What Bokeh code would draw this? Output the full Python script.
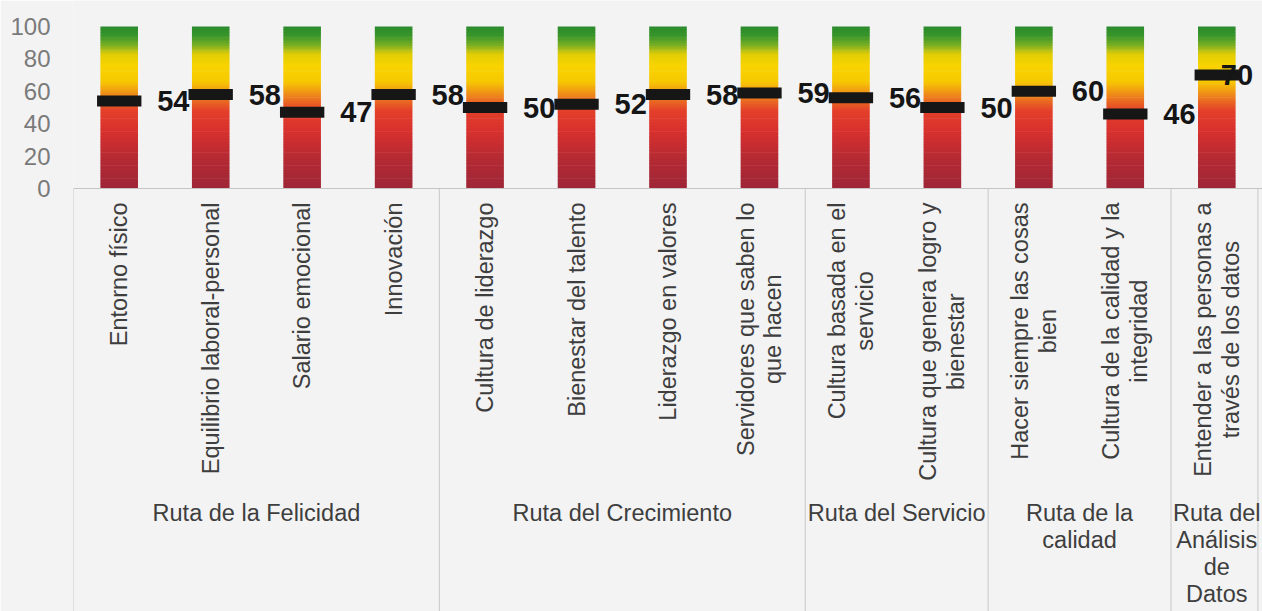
import numpy as np
from bokeh.plotting import figure
from bokeh.models import Range1d, FactorRange, FixedTicker, Span
from bokeh.core.properties import value
from bokeh.embed import file_html
from bokeh.resources import INLINE

# ---------------- data ----------------
grupos = ["Ruta de la Felicidad", "Ruta del Crecimiento", "Ruta del Servicio",
          "Ruta de la\ncalidad", "Ruta del\nAnálisis\nde\nDatos"]
tamanos_grupo = [4, 4, 2, 2, 1]
categorias = ["Entorno físico", "Equilibrio laboral-personal", "Salario emocional",
              "Innovación", "Cultura de liderazgo", "Bienestar del talento",
              "Liderazgo en valores", "Servidores que saben lo que hacen",
              "Cultura basada en el servicio", "Cultura que genera logro y bienestar",
              "Hacer siempre las cosas bien", "Cultura de la calidad y la integridad",
              "Entender a las personas a través de los datos"]
etiquetas = ["Entorno físico", "Equilibrio laboral-personal", "Salario emocional",
             "Innovación", "Cultura de liderazgo", "Bienestar del talento",
             "Liderazgo en valores", "Servidores que saben lo\nque hacen",
             "Cultura basada en el\nservicio", "Cultura que genera logro y\nbienestar",
             "Hacer siempre las cosas\nbien", "Cultura de la calidad y la\nintegridad",
             "Entender a las personas a\ntravés de los datos"]
valores = [54, 58, 47, 58, 50, 52, 58, 59, 56, 50, 60, 46, 70]
ticks_y = [0, 20, 40, 60, 80, 100]
escala_max = 100

# ---------------- style ----------------
W, H = 1262, 611
LEFT = 73
Y_TOP_PX, Y_ZERO_PX = 26, 188
BG = "#f3f3f4"
FONT = "Liberation Sans"
ppu = (Y_ZERO_PX - Y_TOP_PX) / escala_max
y_end = escala_max + Y_TOP_PX / ppu
y_start = -(H - Y_ZERO_PX) / ppu

stops = [(0, "#9e2637"), (18, "#b42a33"), (35, "#d7302e"), (48, "#e4402a"),
         (54, "#ea6a22"), (60, "#f09a14"), (66, "#f6c800"), (76, "#f8d400"),
         (83, "#e0cc05"), (88, "#80b022"), (94, "#3a962a"), (100, "#2a8a2c")]


def _rgb(h):
    return np.array([int(h[i:i + 2], 16) for i in (1, 3, 5)], dtype=float)


def color_at(v):
    for (a, ca), (b, cb) in zip(stops[:-1], stops[1:]):
        if a <= v <= b:
            t = (v - a) / (b - a)
            c = _rgb(ca) * (1 - t) + _rgb(cb) * t
            return "#%02x%02x%02x" % tuple(int(round(x)) for x in c)
    return stops[-1][1]


p = figure(width=W, height=H,
           x_range=FactorRange(factors=categorias, range_padding=0),
           y_range=Range1d(y_start, y_end),
           x_axis_location=None,
           output_backend="svg", toolbar_location=None,
           min_border_left=LEFT, min_border_right=0,
           min_border_top=0, min_border_bottom=0)
p.background_fill_color = BG
p.border_fill_color = BG
p.outline_line_color = None
p.xgrid.visible = False
p.ygrid.visible = False

ax = p.yaxis[0]
ax.ticker = FixedTicker(ticks=ticks_y)
ax.axis_line_color = None
ax.major_tick_line_color = None
ax.major_tick_out = 0
ax.major_tick_in = 0
ax.minor_tick_line_color = None
ax.minor_tick_out = 0
ax.major_label_text_font = FONT
ax.major_label_text_font_size = "24px"
ax.major_label_text_color = "#7a7a7a"
ax.major_label_standoff = 23

# gradient gauge bars (0..escala_max), slightly overlapping slices
gx, gb, gt, gc = [], [], [], []
for c in categorias:
    for v in range(escala_max):
        gx.append(c)
        gb.append(v)
        gt.append(min(v + 1.4, escala_max))
        gc.append(color_at(v + 0.5))
p.vbar(x=gx, bottom=gb, top=gt, width=0.41, fill_color=gc, line_color=None)

# axis line and group separators
p.add_layout(Span(location=0, dimension="width", line_color="#c4c4c4", line_width=1))
sep_x = []
idx = 0
for n in tamanos_grupo:
    sep_x.append((categorias[idx], -0.5))
    idx += n
sep_x.append((categorias[-1], 0.45))
p.segment(x0=sep_x, y0=[0] * len(sep_x), x1=sep_x, y1=[y_start] * len(sep_x),
          line_color="#c8c8c8", line_width=1)

# value markers
p.rect(x=categorias, y=valores, width=0.485, height=11, height_units="screen",
       fill_color="#161616", line_color=None)

# value labels
offs = [38] * len(valores)
offs[-1] = 4
p.text(x=categorias, y=valores, text=[str(v) for v in valores], x_offset=offs,
       text_baseline="middle", text_align="left", text_font=value(FONT),
       text_font_style="bold", text_font_size="29px", text_color="#151515")

# category labels (rotated)
p.text(x=categorias, y=[0] * len(categorias), text=etiquetas, angle=np.pi / 2,
       y_offset=14, anchor="center_right", text_align="center", text_baseline="middle",
       text_font=value(FONT), text_font_size="23.5px", text_color="#3e3e3e",
       text_line_height=1.07)

# group labels
gpos = []
idx = 0
for n in tamanos_grupo:
    gpos.append((categorias[idx], n / 2 - 0.5))
    idx += n
p.text(x=gpos, y=[0] * len(grupos), text=grupos, y_offset=311,
       anchor="top_center", text_align="center", text_baseline="top",
       text_font=value(FONT), text_font_size="23.5px", text_color="#3e3e3e",
       text_line_height=1.04)

open("out.html", "w").write(file_html(p, INLINE))
